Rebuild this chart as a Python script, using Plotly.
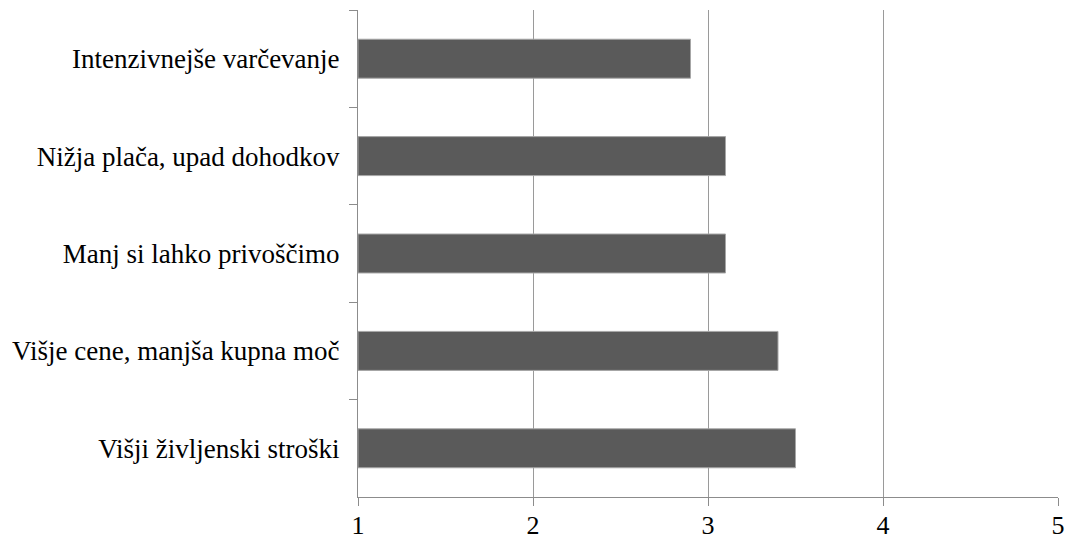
import plotly.graph_objects as go

# Categories listed top to bottom as they appear on the chart
categories = [
    "Intenzivnejše varčevanje",
    "Nižja plača, upad dohodkov",
    "Manj si lahko privoščimo",
    "Višje cene, manjša kupna moč",
    "Višji življenski stroški",
]
values = [2.9, 3.1, 3.1, 3.4, 3.5]
x_ticks = [1, 2, 3, 4, 5]
x_min = 1

SERIF = "Times New Roman, Liberation Serif, DejaVu Serif, serif"

fig = go.Figure(
    go.Bar(
        x=[v - x_min for v in values],  # bars grow from the axis minimum
        y=categories,
        orientation="h",
        base=x_min,
        marker=dict(color="#5a5a5a", line=dict(color="#a6a6a6", width=1)),
    )
)

fig.update_layout(
    width=1067,
    height=539,
    margin=dict(l=358, r=9, t=10, b=42, autoexpand=False),
    plot_bgcolor="white",
    paper_bgcolor="white",
    bargap=0.6,
    showlegend=False,
    font=dict(family=SERIF, size=27, color="black"),
)
fig.update_xaxes(
    range=[1, 5],
    tickvals=x_ticks,
    ticktext=[str(t) for t in x_ticks],
    showgrid=True,
    gridcolor="#9a9a9a",
    gridwidth=1,
    showline=True,
    linecolor="#8c8c8c",
    linewidth=1,
    ticks="outside",
    ticklen=8,
    tickcolor="#8c8c8c",
    zeroline=False,
    automargin=False,
    ticklabelstandoff=-3,
    tickfont=dict(family=SERIF, size=26),
)
fig.update_yaxes(
    autorange="reversed",
    showline=True,
    linecolor="#8c8c8c",
    linewidth=1,
    ticks="outside",
    tickson="boundaries",
    ticklen=8,
    tickcolor="#8c8c8c",
    showgrid=False,
    automargin=False,
    ticklabelstandoff=12,
    tickfont=dict(family=SERIF, size=27),
)

fig.write_html("out.html")
